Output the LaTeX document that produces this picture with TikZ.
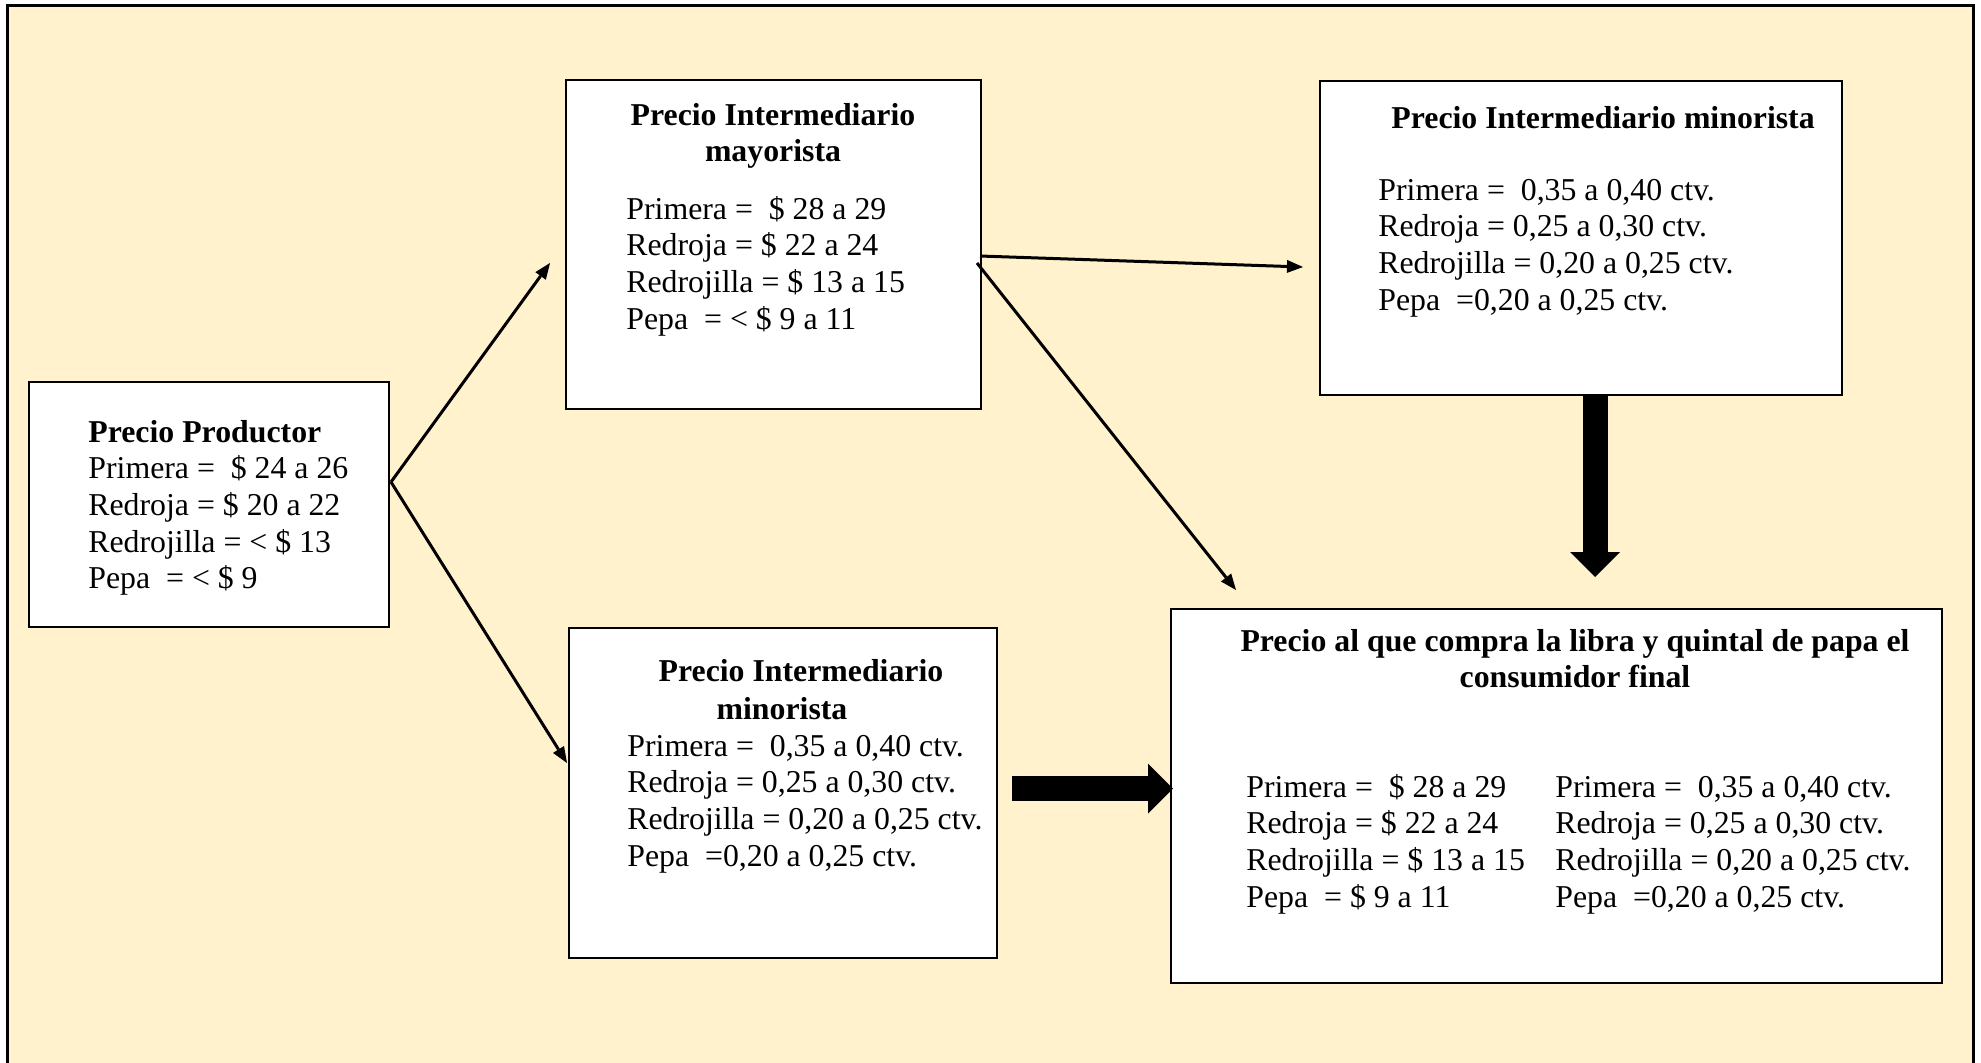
\documentclass[tikz,border=0pt]{standalone}
\usepackage{fontspec}
\setmainfont{Liberation Serif}
\usetikzlibrary{arrows.meta}
\definecolor{cream}{HTML}{FFF2CC}

\begin{document}
\begin{tikzpicture}[
		x=0.5pt, y=-0.5pt,
		box/.style={draw, line width=1.3pt, fill=white, inner sep=0pt},
		txt/.style={anchor=base west, inner sep=0pt, text width=200pt, align=flush left,
			font=\fontsize{15.9}{18.35}\selectfont},
		ttl/.style={anchor=base, inner sep=0pt, text width=400pt, align=flush center,
			font=\fontsize{15.9}{18.35}\selectfont\bfseries},
		link/.style={line width=1.5pt, -{Triangle[length=8pt,width=6.5pt,line width=0pt]}},
		fat/.style={line width=12.5pt, -{Triangle[length=12.5pt,width=25pt,line width=0pt]}}
		]
		\useasboundingbox (0,0) rectangle (1981,1062);
		\clip (0,0) rectangle (1981,1062);
		\draw[line width=1.5pt, fill=cream] (7,5) rectangle (1973,1090);
		
		% boxes
		\node[box, minimum width=180pt, minimum height=122.5pt] (prod) at (209,504.5) {};
		\node[box, minimum width=207.5pt, minimum height=164.5pt] (mayor) at (773.5,244.5) {};
		\node[box, minimum width=261pt, minimum height=157pt] (mintop) at (1581,238) {};
		\node[box, minimum width=214pt, minimum height=165pt] (minbot) at (783,793) {};
		\node[box, minimum width=385.5pt, minimum height=187pt] (final) at (1556.5,796) {};
		
		% texts
		\node[txt] (prodtxt) at (88,442) {\textbf{Precio Productor}\\
			Primera =~~\$ 24 a 26\\
			Redroja = \$ 20 a 22\\
			Redrojilla = < \$ 13\\
			Pepa~~= < \$ 9};
		
		\node[ttl] (mayorttl) at (773,125) {Precio Intermediario\\mayorista};
		\node[txt] (mayortxt) at (626,219) {Primera =~~\$ 28 a 29\\
			Redroja = \$ 22 a 24\\
			Redrojilla = \$ 13 a 15\\
			Pepa~~= < \$ 9 a 11};
		
		\node[ttl, anchor=base west, align=flush left] (mintopttl) at (1391,128) {Precio Intermediario minorista};
		\node[txt] (mintoptxt) at (1378,200) {Primera =~~0,35 a 0,40 ctv.\\
			Redroja = 0,25 a 0,30 ctv.\\
			Redrojilla = 0,20 a 0,25 ctv.\\
			Pepa~~=0,20 a 0,25 ctv.};
		
		\node[ttl] (minbotttl) at (801,681) {Precio Intermediario};
		\node[ttl] (minbotttlb) at (782,719) {minorista};
		\node[txt] (minbottxt) at (627,756) {Primera =~~0,35 a 0,40 ctv.\\
			Redroja = 0,25 a 0,30 ctv.\\
			Redrojilla = 0,20 a 0,25 ctv.\\
			Pepa~~=0,20 a 0,25 ctv.};
		
		\node[ttl] (finalttl) at (1575,651) {Precio al que compra la libra y quintal de papa el\\consumidor final};
		\node[txt] (finaltxta) at (1246,797) {Primera =~~\$ 28 a 29\\
			Redroja = \$ 22 a 24\\
			Redrojilla = \$ 13 a 15\\
			Pepa~~= \$ 9 a 11};
		\node[txt] (finaltxtb) at (1555,797) {Primera =~~0,35 a 0,40 ctv.\\
			Redroja = 0,25 a 0,30 ctv.\\
			Redrojilla = 0,20 a 0,25 ctv.\\
			Pepa~~=0,20 a 0,25 ctv.};
		
		% arrow ends
		\coordinate (prodout) at (391,482);
		\coordinate (mayorin) at (550,263);
		\coordinate (minbotin) at (567,763);
		\coordinate (mayorout) at (980,256);
		\coordinate (mintopin) at (1303,267);
		\coordinate (mayoroutb) at (977,263);
		\coordinate (finalin) at (1236,590);
		\coordinate (mintopout) at (1595,395);
		\coordinate (finaltop) at (1595,577);
		\coordinate (minbotout) at (1012,788.5);
		\coordinate (finalleft) at (1173,788.5);
		
		\draw[link] (prodout) -- (mayorin);
		\draw[link] (prodout) -- (minbotin);
		\draw[link] (mayorout) -- (mintopin);
		\draw[link] (mayoroutb) -- (finalin);
		\draw[fat] (mintopout) -- (finaltop);
		\draw[fat] (minbotout) -- (finalleft);
\end{tikzpicture}
\end{document}
